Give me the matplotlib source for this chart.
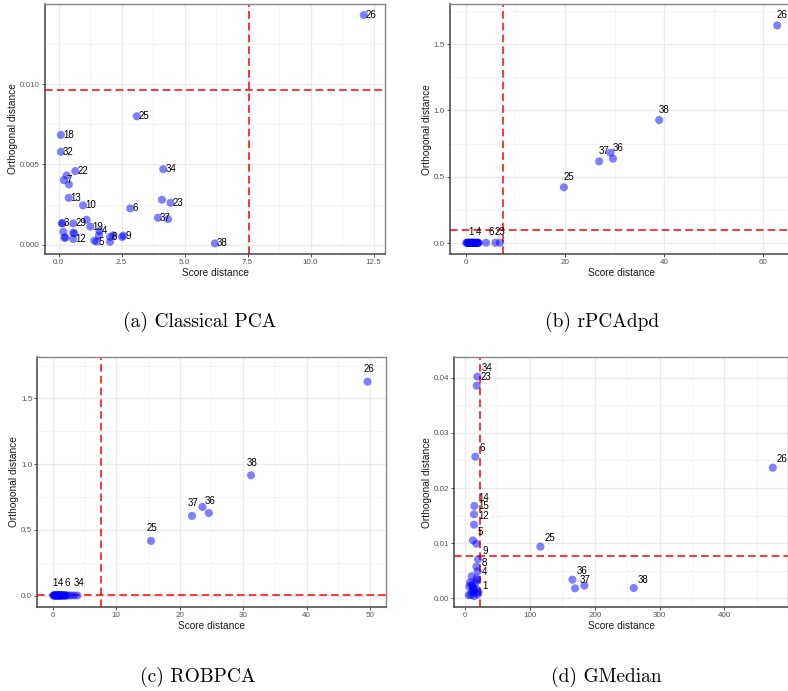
# Outlier maps (score distance vs orthogonal distance) for four PCA methods

import numpy as np
import matplotlib.pyplot as plt

plt.rcParams['font.family'] = ['Liberation Sans', 'DejaVu Sans']

# (a) Classical PCA
a_sd = [12.11, 3.10, 0.09, 0.09, 0.66, 0.32, 0.21, 0.41, 0.40, 0.97, 2.84, 4.15, 4.44, 4.10,
        3.94, 4.34, 0.13, 0.15, 0.58, 1.11, 1.26, 0.19, 0.23, 0.27, 0.58, 0.62, 0.58, 1.62,
        1.60, 1.42, 1.51, 2.04, 2.04, 2.17, 2.57, 2.52, 6.20]
a_od = [0.01429, 0.0080, 0.00684, 0.00579, 0.00459, 0.00432, 0.00403, 0.00376, 0.00293,
        0.00246, 0.00227, 0.00471, 0.00262, 0.00281, 0.00169, 0.00161, 0.00134, 0.00136,
        0.00134, 0.00157, 0.00114, 0.00081, 0.00045, 0.00046, 0.00076, 0.00072, 0.00037,
        0.00087, 0.00060, 0.00027, 0.00021, 0.00050, 0.00020, 0.00060, 0.00058, 0.00050,
        0.00010]
a_lab = ['26', '25', '18', '32', '22', '', '7', '', '13', '10', '6', '34', '23', '',
         '37', '', '3', '', '29', '', '19', '', '', '', '', '', '12', '4',
         '', '', '5', '8', '', '', '9', '', '38']
a_cut = (7.55, 0.0096)

# (b) rPCAdpd
b_sd = [62.8, 39.0, 26.9, 29.7, 29.2, 19.8, 4.1, 6.0, 6.9,
        0.1, 0.3, 0.4, 0.6, 0.7, 0.8, 0.9, 1.0, 1.1, 1.2, 1.3, 1.4, 1.5, 1.6, 1.7,
        1.8, 1.9, 2.0, 2.1, 2.2, 2.3, 2.4, 2.5, 2.6, 0.5, 1.15]
b_od = [1.641, 0.927, 0.616, 0.636, 0.681, 0.420, 0.002, 0.002, 0.002,
        0.001, 0.002, 0.001, 0.001, 0.002, 0.001, 0.001, 0.002, 0.001, 0.001, 0.002,
        0.001, 0.001, 0.002, 0.001, 0.001, 0.002, 0.001, 0.001, 0.002, 0.001, 0.001,
        0.002, 0.001, 0.001, 0.002]
b_lab = ['26', '38', '37', '36', '', '25', '6', '23', '',
         '1', '', '', '', '', '', '', '', '', '', '', '', '', '', '4',
         '', '', '', '', '', '', '', '', '', '', '']
b_cut = (7.6, 0.098)

# (c) ROBPCA
c_sd = [49.6, 31.25, 21.95, 24.6, 23.6, 15.5,
        0.1, 0.95, 2.15, 3.9, 3.4, 2.9, 2.5,
        0.2, 0.3, 0.4, 0.5, 0.6, 0.7, 0.8, 0.9, 1.0, 1.1, 1.2, 1.3, 1.4, 1.5,
        1.6, 1.7, 1.8, 1.9, 2.0, 0.35, 0.65, 1.05]
c_od = [1.627, 0.915, 0.606, 0.628, 0.674, 0.416,
        0.001, 0.001, 0.001, 0.001, 0.001, 0.001, 0.001,
        0.001, 0.002, 0.001, 0.001, 0.002, 0.001, 0.001, 0.002, 0.001, 0.001, 0.002,
        0.001, 0.001, 0.002, 0.001, 0.001, 0.002, 0.001, 0.001, 0.001, 0.002, 0.001]
c_lab = ['26', '38', '37', '36', '', '25',
         '1', '4', '6', '34', '', '', '',
         '', '', '', '', '', '', '', '', '', '', '', '', '', '',
         '', '', '', '', '', '', '', '']
c_cut = (7.56, 0.006)

# (d) GMedian
d_sd = [474.6, 116.2, 165.6, 169.7, 184.1, 260.2, 19.0, 18.0, 15.9, 14.4, 13.9, 13.9,
        12.3, 17.5, 20.1, 17.5, 19.5, 19.0, 10.3, 18.0, 7.7, 9.8, 6.7, 13.9, 18.0,
        10.3, 14.4, 8.7, 13.9, 19.5, 5.7, 11.8, 16.0, 21.0, 12.5]
d_od = [0.02369, 0.00937, 0.00338, 0.00181, 0.00230, 0.00187, 0.04020, 0.03855,
        0.02568, 0.01674, 0.01523, 0.01335, 0.01051, 0.00990, 0.00707, 0.00574,
        0.00490, 0.00330, 0.00400, 0.00360, 0.00290, 0.00250, 0.00210, 0.00180,
        0.00160, 0.00120, 0.00100, 0.00060, 0.00040, 0.00070, 0.00060, 0.00220,
        0.00280, 0.00110, 0.00150]
d_lab = ['26', '25', '36', '37', '', '38', '34', '23', '6', '14', '15', '12',
         '5', '', '9', '', '8', '4', '', '', '', '', '', '', '',
         '', '', '', '', '1', '', '', '', '', '']
d_cut = (22.6, 0.00761)

captions = ['(a) Classical PCA', '(b) rPCAdpd', '(c) ROBPCA', '(d) GMedian']

W, H = 788.0, 691.0


def box(left, top, right, bottom):
    return [left / W, 1 - bottom / H, (right - left) / W, (bottom - top) / H]


def outlier_map(ax, sd, od, lab, cut, xt, xtl, yt, ytl, xlim, ylim, off, ha):
    ax.set_axisbelow(True)
    ax.scatter(sd, od, s=34, color='blue', alpha=0.5, edgecolors='none', zorder=3)
    for x, y, t in zip(sd, od, lab):
        if t:
            ax.annotate(t, (x, y), xytext=off, textcoords='offset points',
                        ha=ha, va='center', fontsize=7, color='black', zorder=4)
    ax.axvline(cut[0], color='red', lw=1.1, ls=(0, (5, 2.7)), zorder=2)
    ax.axhline(cut[1], color='red', lw=1.1, ls=(0, (5, 2.7)), zorder=2)

    step = xt[1] - xt[0]
    ax.set_xticks(xt)
    ax.set_xticklabels(xtl)
    ax.set_xticks(np.append(np.array(xt) - step / 2, xt[-1] + step / 2), minor=True)
    step = yt[1] - yt[0]
    ax.set_yticks(yt)
    ax.set_yticklabels(ytl)
    ax.set_yticks(np.append(np.array(yt) - step / 2, yt[-1] + step / 2), minor=True)
    ax.set_xlim(xlim)
    ax.set_ylim(ylim)

    ax.grid(True, which='major', color='#ebebeb', lw=1.0)
    ax.grid(True, which='minor', color='#f3f3f3', lw=0.6)
    ax.tick_params(which='major', length=2.2, width=0.6, color='#333333',
                   labelsize=5.8, labelcolor='#555555', pad=1.5)
    ax.tick_params(which='minor', length=0)
    for s in ['top', 'right']:
        ax.spines[s].set_color('#888888')
        ax.spines[s].set_linewidth(1.0)
    for s in ['left', 'bottom']:
        ax.spines[s].set_color('#444444')
        ax.spines[s].set_linewidth(1.1)
    ax.set_xlabel('Score distance', fontsize=7.3, labelpad=1, color='#1a1a1a')
    ax.set_ylabel('Orthogonal distance', fontsize=7.3, labelpad=1.5, color='#1a1a1a')


fig = plt.figure(figsize=(W / 100, H / 100), dpi=100)

ax_a = fig.add_axes(box(45, 4, 385, 254))
outlier_map(ax_a, a_sd, a_od, a_lab, a_cut,
            [0, 2.5, 5, 7.5, 10, 12.5], ['0.0', '2.5', '5.0', '7.5', '10.0', '12.5'],
            [0, 0.005, 0.010], ['0.000', '0.005', '0.010'],
            (-0.54, 12.95), (-0.00056, 0.01497), (1.5, 0), 'left')

ax_b = fig.add_axes(box(450, 4.3, 792.6, 254.3))
outlier_map(ax_b, b_sd, b_od, b_lab, b_cut,
            [0, 20, 40, 60], ['0', '20', '40', '60'],
            [0, 0.5, 1.0, 1.5], ['0.0', '0.5', '1.0', '1.5'],
            (-3.16, 65.9), (-0.085, 1.80), (3.5, 7.5), 'center')

ax_c = fig.add_axes(box(37.3, 356.7, 385.7, 607.3))
outlier_map(ax_c, c_sd, c_od, c_lab, c_cut,
            [0, 10, 20, 30, 40, 50], ['0', '10', '20', '30', '40', '50'],
            [0, 0.5, 1.0, 1.5], ['0.0', '0.5', '1.0', '1.5'],
            (-2.42, 52.47), (-0.089, 1.817), (1, 9), 'center')

ax_d = fig.add_axes(box(454.3, 357.3, 788, 607.3))
outlier_map(ax_d, d_sd, d_od, d_lab, d_cut,
            [0, 100, 200, 300, 400, 500], ['0', '100', '200', '300', '400', '500'],
            [0, 0.01, 0.02, 0.03, 0.04], ['0.00', '0.01', '0.02', '0.03', '0.04'],
            (-16.5, 498), (-0.00163, 0.0437), (3, 6), 'left')

# captions under each panel
fig.text(200 / W, 1 - 322 / H, captions[0], family='cmr10', fontsize=14, ha='center', va='center')
fig.text(602 / W, 1 - 322 / H, captions[1], family='cmr10', fontsize=14, ha='center', va='center')
fig.text(198 / W, 1 - 677 / H, captions[2], family='cmr10', fontsize=14, ha='center', va='center')
fig.text(606 / W, 1 - 677 / H, captions[3], family='cmr10', fontsize=14, ha='center', va='center')

fig.savefig('out.png', dpi=100)
